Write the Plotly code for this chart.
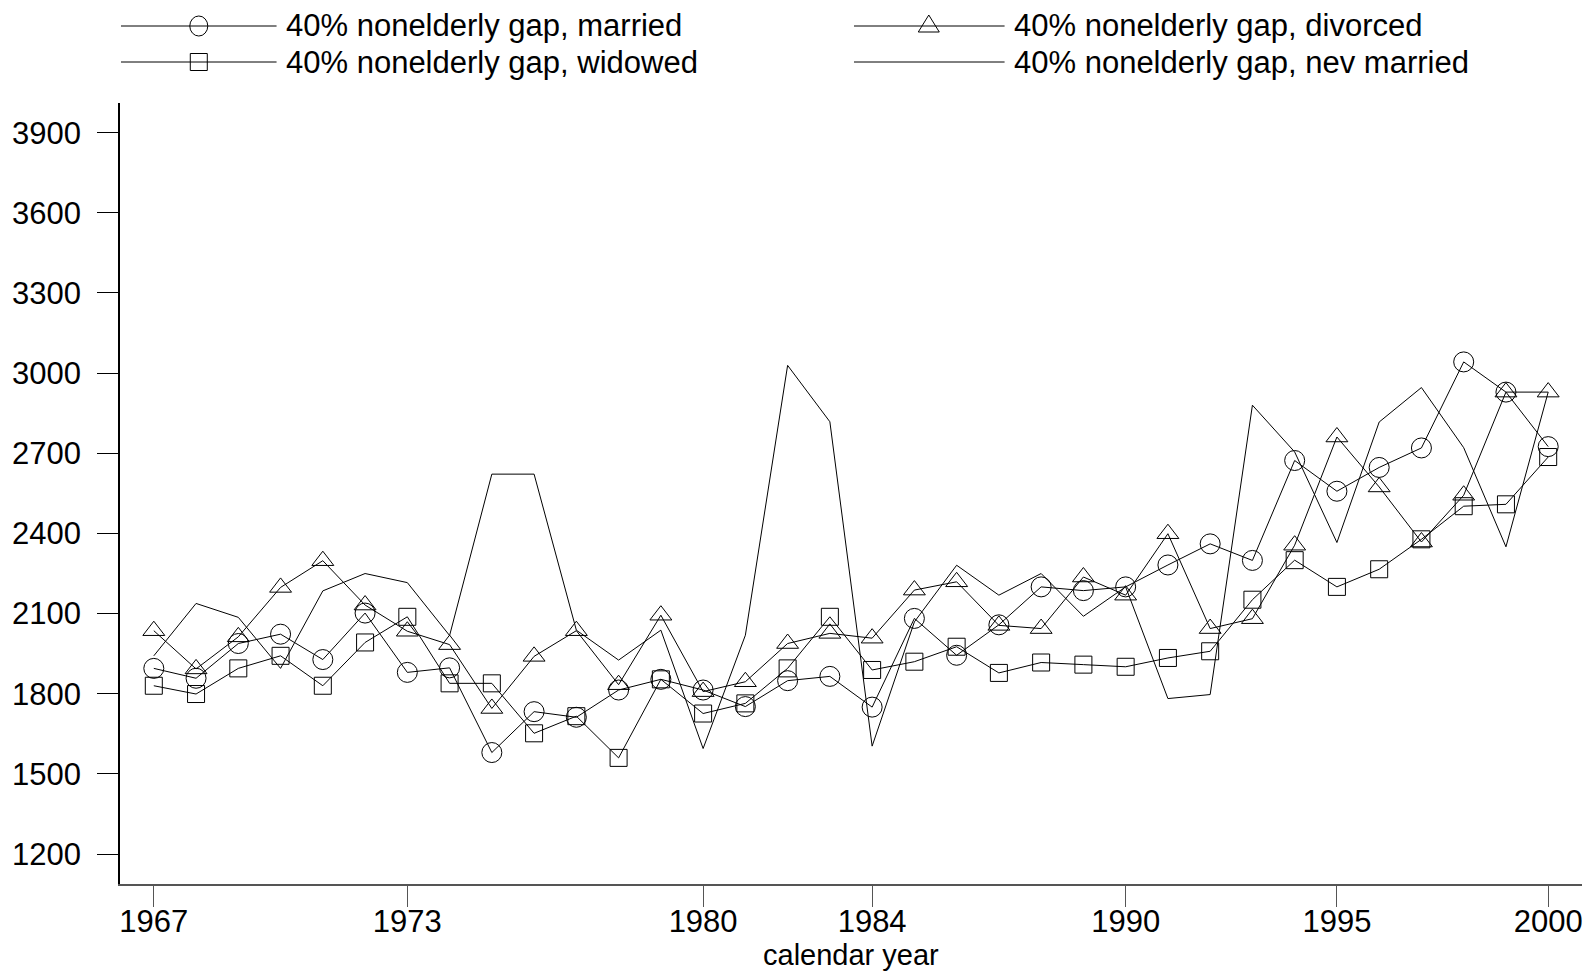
import plotly.graph_objects as go

years = list(range(1967, 2001))

married = [1895, 1858, 1988, 2023, 1928, 2102, 1880, 1897, 1580, 1733, 1712, 1814, 1854, 1814, 1752, 1849, 1865, 1750,
           2082, 1944, 2058, 2200, 2186, 2200, 2282, 2361, 2299, 2673, 2558, 2647, 2720, 3042, 2929, 2725]
divorced = [2036, 1893, 2013, 2198, 2298, 2132, 2034, 1984, 1745, 1940, 2036, 1834, 2094, 1808, 1845, 1988, 2026, 2008,
            2188, 2219, 2056, 2044, 2237, 2169, 2399, 2044, 2081, 2356, 2761, 2574, 2368, 2543, 2929, 2929]
widowed = [1830, 1799, 1895, 1942, 1830, 1992, 2088, 1839, 1839, 1652, 1716, 1560, 1854, 1726, 1764, 1895, 2088, 1889,
           1920, 1976, 1878, 1917, 1909, 1901, 1934, 1959, 2152, 2300, 2200, 2266, 2378, 2502, 2509, 2686]
nev_married = [1942, 2138, 2086, 1895, 2185, 2250, 2216, 2018, 2622, 2622, 2038, 1926, 2038, 1595, 2019, 3029, 2818, 1604,
               2069, 2281, 2169, 2250, 2090, 2200, 1782, 1797, 2880, 2705, 2366, 2817, 2946, 2721, 2350, 2929]

labels = ["40% nonelderly gap, married", "40% nonelderly gap, divorced",
          "40% nonelderly gap, widowed", "40% nonelderly gap, nev married"]
y_ticks = [1200, 1500, 1800, 2100, 2400, 2700, 3000, 3300, 3600, 3900]
x_ticks = [1967, 1973, 1980, 1984, 1990, 1995, 2000]

FONT = "Liberation Sans, Arial, sans-serif"
W, H = 1595, 972
L, R, T, B = 116, 1582, 103, 884

fig = go.Figure()
specs = [(married, "circle-open", 20), (divorced, "triangle-up-open", 19),
         (widowed, "square-open", 17), (nev_married, None, 0)]
for (vals, sym, sz), name in zip(specs, labels):
    if sym:
        fig.add_trace(go.Scatter(x=years, y=vals, name=name, mode="lines+markers",
                                 line=dict(color="black", width=1),
                                 marker=dict(symbol=sym, size=sz, color="black",
                                             line=dict(color="black", width=1))))
    else:
        fig.add_trace(go.Scatter(x=years, y=vals, name=name, mode="lines",
                                 line=dict(color="black", width=1)))

def px_x(px):
    return (px - L) / (R - L)

def px_y(py):
    return (B - py) / (B - T)

shapes = []
annotations = []
legend_items = [(117, 273, 195, 26, "circle", labels[0]),
                (852, 1003, 927, 26, "triangle", labels[1]),
                (117, 273, 195, 62, "square", labels[2]),
                (852, 1003, 927, 62, None, labels[3])]
for xs, xe, xm, yy, kind, txt in legend_items:
    shapes.append(dict(type="line", xref="paper", yref="paper", x0=px_x(xs), x1=px_x(xe),
                       y0=px_y(yy), y1=px_y(yy), line=dict(color="black", width=1)))
    common = dict(xref="paper", yref="paper", xsizemode="pixel", ysizemode="pixel",
                  xanchor=px_x(xm), yanchor=px_y(yy), line=dict(color="black", width=1))
    if kind == "circle":
        shapes.append(dict(type="circle", x0=-9, x1=9, y0=-10, y1=10, **common))
    elif kind == "square":
        shapes.append(dict(type="rect", x0=-8.5, x1=8.5, y0=-8.5, y1=8.5, **common))
    elif kind == "triangle":
        shapes.append(dict(type="path", path="M-10.5,-6 L10.5,-6 L0,11 Z", **common))
    annotations.append(dict(text=txt, xref="paper", yref="paper", x=px_x(xe + 7), y=px_y(yy),
                            xanchor="left", yanchor="middle", showarrow=False,
                            font=dict(family=FONT, size=31, color="black")))

annotations.append(dict(text="calendar year", xref="paper", yref="paper", x=0.5, y=px_y(955),
                        xanchor="center", yanchor="middle", showarrow=False, borderpad=0,
                        font=dict(family=FONT, size=29, color="black")))

fig.update_layout(
    width=W, height=H, autosize=False,
    margin=dict(l=L, r=W - R, t=T, b=H - B, pad=0),
    paper_bgcolor="white", plot_bgcolor="white",
    showlegend=False,
    font=dict(family=FONT, size=31, color="black"),
    shapes=shapes, annotations=annotations,
    xaxis=dict(range=[1966.2, 2000.8], tickmode="array", tickvals=x_ticks,
               ticktext=[str(v) for v in x_ticks], showgrid=False, zeroline=False,
               showline=True, linecolor="#555555", linewidth=1.5, ticks="outside",
               ticklen=21, tickcolor="#555555", tickwidth=1, ticklabelstandoff=-12,
               tickfont=dict(family=FONT, size=31, color="black")),
    yaxis=dict(range=[1088, 4011], tickmode="array", tickvals=y_ticks,
               ticktext=[str(v) for v in y_ticks], showgrid=False, zeroline=False,
               showline=True, linecolor="black", linewidth=1.5, ticks="outside",
               ticklen=21, tickcolor="black", tickwidth=1, ticklabelstandoff=10,
               tickfont=dict(family=FONT, size=31, color="black")),
)

fig.write_html("out.html")
